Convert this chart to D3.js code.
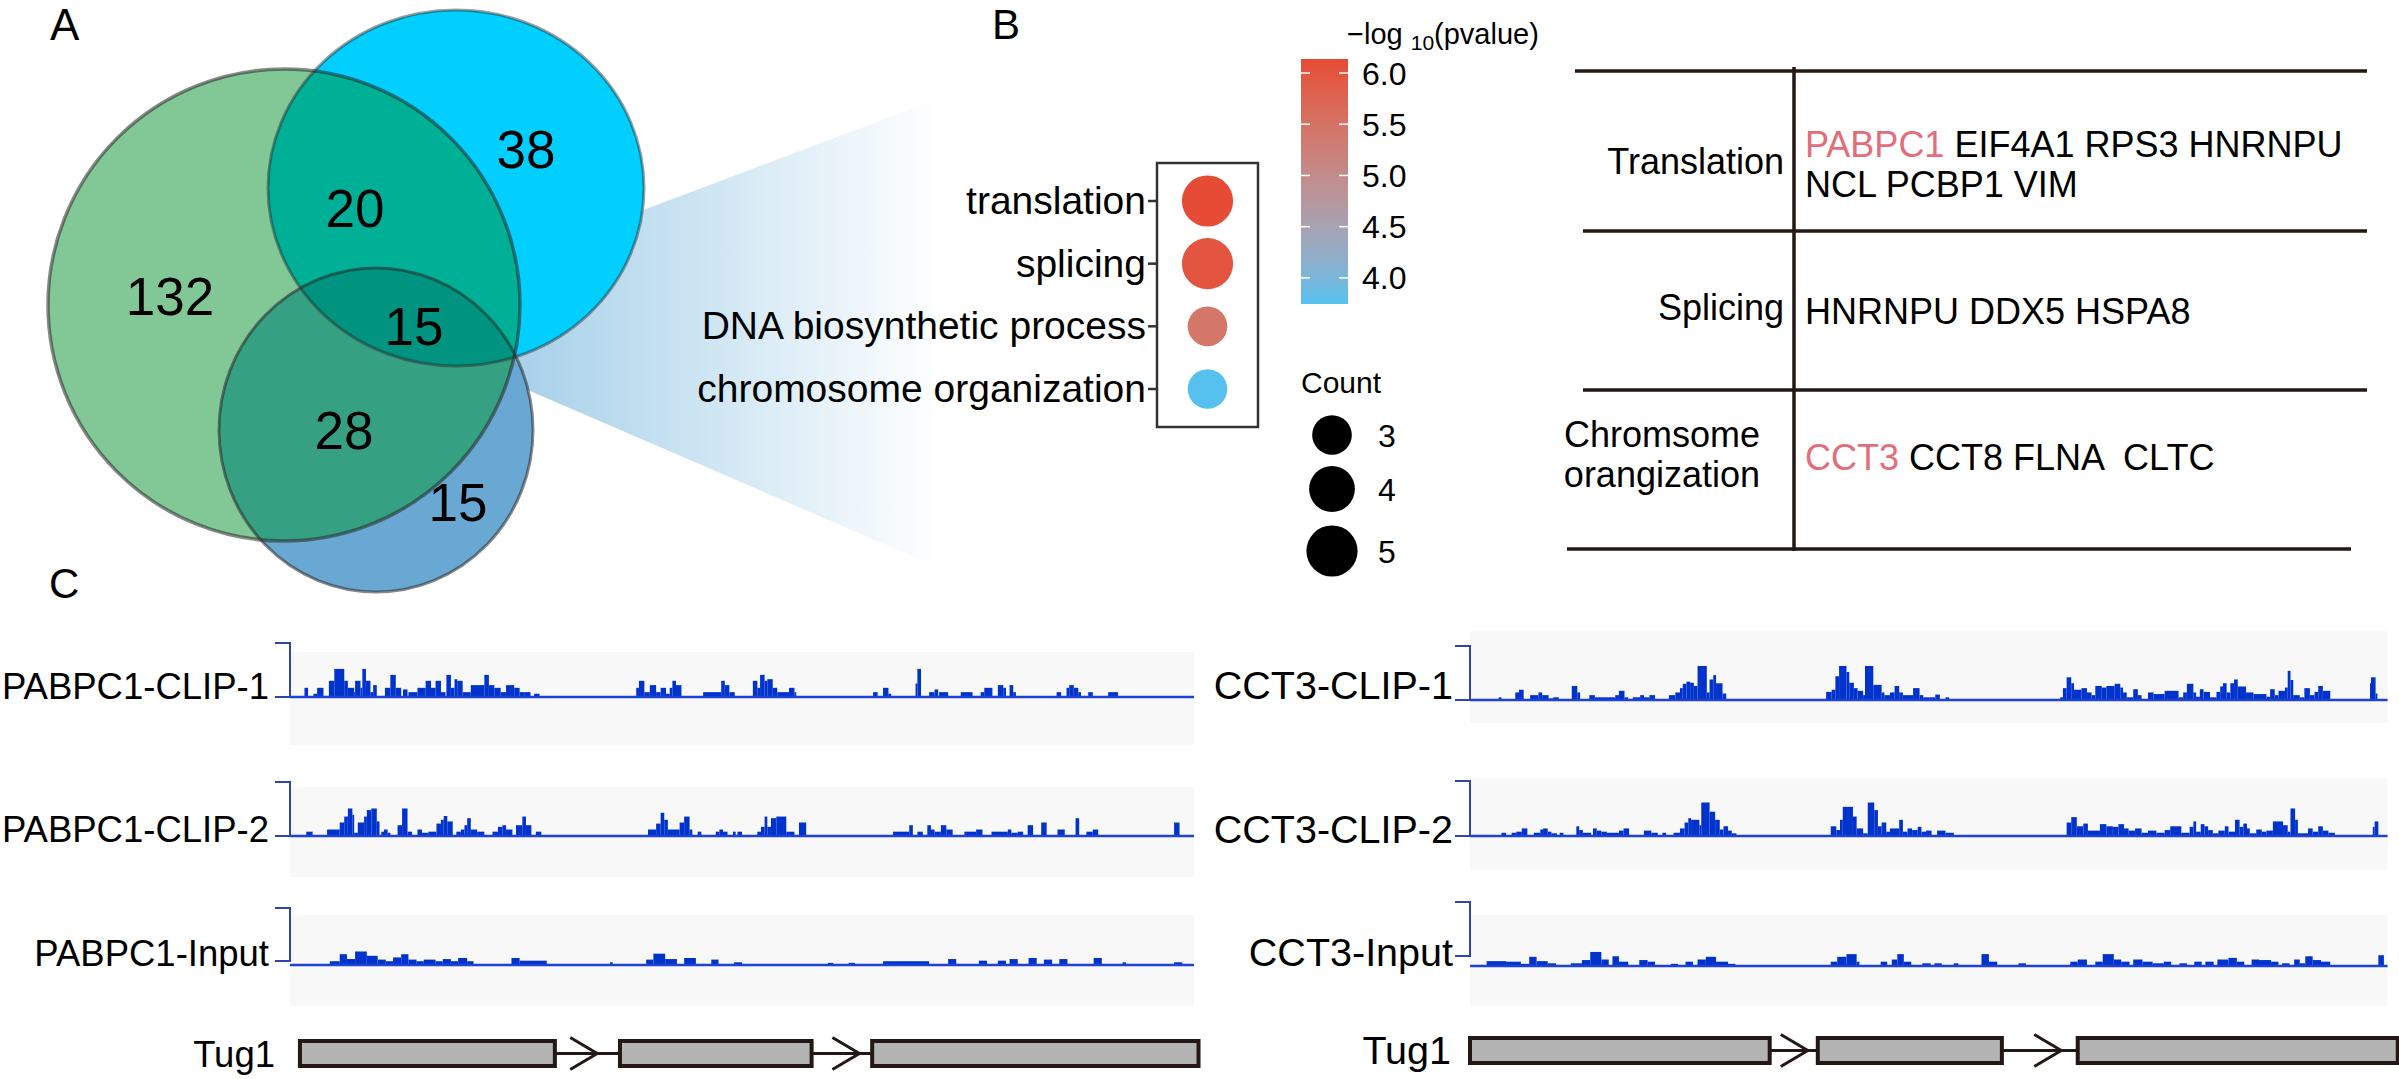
<!DOCTYPE html>
<html><head><meta charset="utf-8">
<script src="https://cdn.jsdelivr.net/npm/d3@7"></script>
<style>
body{margin:0;background:#fff;overflow:hidden}
svg text{font-family:"Liberation Sans",Arial,Helvetica,sans-serif;fill:#000}
</style></head>
<body><svg id="c" width="2399" height="1079"></svg>
<script>
// ---------------- DATA ----------------
// Panel A: Venn region counts
const vennRegions = ["A only", "B only", "A∩B", "A∩B∩C", "A∩C", "C only"];
const vennCounts = [132, 38, 20, 15, 28, 15];

// Panel B: GO enrichment
const goTerms = ["translation", "splicing", "DNA biosynthetic process", "chromosome organization"];
const goCount = [5, 5, 3, 3];
const goLogP = [6.137, 6.0, 5.45, 3.745];
const colorTicks = [4.0, 4.5, 5.0, 5.5, 6.0];
const countTicks = [3, 4, 5];

// Panel B: table
const tableCategories = [["Translation"], ["Splicing"], ["Chromsome", "orangization"]];
const tableGeneLines = [
  [["PABPC1", "EIF4A1", "RPS3", "HNRNPU"], ["NCL", "PCBP1", "VIM"]],
  [["HNRNPU", "DDX5", "HSPA8"]],
  [["CCT3", "CCT8", "FLNA", "", "CLTC"]]
];
const highlightGenes = ["PABPC1", "CCT3"];

// Panel C: tracks (bedGraph-like segments: [start, end, signal]; locus units 0-1000, signal 0-100 of track scale)
const trackNames = ["PABPC1-CLIP-1", "PABPC1-CLIP-2", "PABPC1-Input", "CCT3-CLIP-1", "CCT3-CLIP-2", "CCT3-Input"];
const sigL1 = [[16,20,17],[26,30,6],[30,37,17],[43,49,30],[49,60,52],[60,64,30],[64,71,17],[71,72,9],[72,78,30],[78,80,17],[80,84,52],[84,89,30],[89,92,9],[92,96,22],[105,111,17],[111,117,41],[117,123,17],[125,130,14],[131,141,9],[141,150,17],[150,156,30],[156,161,17],[161,167,30],[167,172,9],[173,178,41],[178,182,17],[182,185,33],[185,191,30],[191,200,9],[200,215,22],[215,220,41],[220,226,22],[226,233,17],[233,239,9],[239,248,22],[248,254,17],[254,259,9],[259,266,9],[270,276,6],[383,386,17],[386,392,30],[392,398,9],[398,405,22],[405,410,9],[410,416,17],[416,420,6],[420,423,17],[423,427,30],[427,433,22],[457,477,9],[477,481,30],[481,486,22],[486,492,9],[512,517,30],[517,520,17],[520,525,41],[525,528,30],[528,534,33],[534,539,17],[539,552,9],[552,558,17],[558,560,9],[645,650,9],[656,662,17],[662,665,6],[692,694,25],[694,698,52],[707,713,9],[713,717,14],[718,728,9],[742,755,9],[764,768,9],[768,777,17],[783,789,22],[789,792,17],[796,800,22],[800,803,9],[848,853,9],[859,862,17],[862,867,22],[867,872,17],[872,875,9],[883,888,9],[905,916,9]];
const sigL2 = [[18,25,8],[41,55,12],[55,60,25],[60,64,36],[64,69,51],[69,71,39],[71,75,6],[75,82,25],[82,85,36],[85,90,48],[90,96,51],[96,99,27],[101,104,8],[104,108,12],[108,111,6],[119,124,20],[124,130,51],[130,135,8],[141,146,12],[146,153,6],[153,162,8],[162,167,23],[167,170,30],[170,174,37],[174,180,27],[184,189,8],[189,193,12],[193,196,20],[196,200,33],[200,207,12],[207,215,8],[224,230,8],[230,235,17],[235,239,20],[239,246,12],[250,257,20],[257,261,36],[261,267,20],[272,278,8],[396,405,12],[405,410,23],[410,414,43],[414,418,30],[418,431,12],[431,436,25],[436,442,36],[442,445,12],[451,455,8],[471,475,8],[475,479,12],[479,484,8],[490,493,8],[495,500,8],[517,521,8],[521,525,17],[525,528,36],[528,532,17],[532,538,33],[538,549,36],[549,558,8],[563,571,25],[667,685,8],[685,689,20],[694,700,8],[705,709,20],[709,713,12],[713,720,8],[720,726,20],[726,733,12],[746,759,8],[759,766,12],[776,794,8],[794,798,12],[798,805,6],[805,811,8],[816,822,20],[831,837,25],[849,857,12],[869,873,33],[881,888,8],[888,894,12],[978,984,25]];
const sigL3 = [[44,55,7],[55,63,20],[63,72,11],[72,85,25],[85,97,17],[97,106,10],[106,114,7],[114,123,14],[123,131,20],[131,140,10],[140,148,7],[148,161,10],[161,169,7],[169,178,11],[178,186,7],[186,196,13],[196,203,7],[245,254,13],[254,284,8],[354,357,5],[394,402,10],[402,415,21],[415,428,11],[436,449,13],[466,474,10],[491,500,5],[595,601,4],[618,625,4],[656,707,7],[728,737,11],[762,771,8],[783,792,8],[796,805,11],[817,826,13],[834,843,10],[851,860,11],[889,898,13],[921,925,5],[978,987,5]];
const sigR1 = [[31,34,5],[49,53,14],[53,58,19],[65,74,9],[74,78,14],[78,85,9],[85,90,3],[90,96,5],[110,116,26],[116,119,14],[129,135,9],[135,157,5],[157,161,9],[161,167,17],[167,171,5],[176,184,5],[184,188,9],[188,194,5],[194,200,9],[215,222,9],[222,227,14],[227,230,22],[230,234,30],[234,238,34],[238,242,32],[242,246,26],[246,256,63],[256,259,14],[259,263,38],[263,266,46],[266,273,31],[273,277,12],[385,391,15],[391,395,19],[395,399,44],[399,407,63],[407,410,52],[410,415,32],[415,419,22],[419,425,17],[425,427,9],[427,436,63],[436,445,28],[445,448,14],[448,454,9],[454,459,14],[459,464,26],[464,468,14],[468,479,9],[479,486,22],[486,490,9],[490,497,5],[497,503,5],[503,508,10],[514,518,5],[638,641,5],[641,645,22],[645,650,42],[650,653,31],[653,661,19],[661,667,22],[667,672,14],[672,676,9],[676,683,26],[683,688,23],[688,697,26],[697,703,30],[703,706,23],[706,710,14],[710,717,5],[717,722,20],[722,726,9],[733,739,14],[739,751,11],[751,766,17],[766,771,5],[771,775,14],[775,782,30],[782,785,14],[785,789,6],[789,793,20],[793,800,15],[800,807,5],[807,811,15],[811,814,25],[814,818,31],[818,822,14],[822,826,31],[826,830,38],[830,839,25],[839,847,14],[847,861,11],[861,865,6],[865,870,20],[870,874,9],[874,881,17],[881,884,23],[884,887,54],[887,890,37],[890,897,9],[897,902,5],[902,908,22],[908,913,9],[913,917,15],[917,922,26],[922,930,17],[973,974,31],[974,979,42],[979,981,12]];
const sigR2 = [[34,39,6],[45,50,6],[50,56,8],[56,62,14],[69,76,6],[76,79,12],[79,84,14],[84,88,8],[88,94,5],[97,101,6],[115,118,18],[118,122,11],[122,131,6],[133,137,14],[137,142,10],[142,148,8],[148,161,6],[161,166,10],[166,172,14],[188,196,10],[196,203,6],[208,212,6],[220,227,6],[227,232,14],[232,236,25],[236,239,33],[239,248,30],[248,250,20],[250,259,62],[259,265,45],[265,270,30],[270,274,12],[274,279,18],[279,283,10],[283,288,5],[390,396,18],[396,400,11],[400,403,30],[403,414,54],[414,418,36],[418,425,14],[425,430,5],[430,437,62],[437,441,48],[441,445,18],[445,450,25],[450,454,8],[454,464,14],[464,468,30],[468,473,8],[473,478,14],[478,484,11],[484,488,17],[488,493,8],[493,499,10],[505,514,10],[514,523,6],[645,650,25],[650,656,35],[656,663,18],[663,668,23],[668,681,10],[681,688,22],[688,695,18],[695,701,17],[701,707,22],[707,712,14],[712,719,10],[719,726,14],[726,733,6],[733,742,10],[742,751,6],[751,757,11],[757,769,18],[769,778,6],[778,782,17],[782,785,27],[785,790,8],[790,794,22],[794,798,18],[798,803,11],[803,809,5],[809,816,10],[816,820,18],[820,827,8],[827,832,30],[832,836,17],[836,840,23],[840,843,14],[843,850,5],[850,856,12],[856,861,8],[861,868,10],[868,879,27],[879,884,20],[884,887,8],[887,892,51],[892,895,30],[895,906,5],[906,911,14],[911,917,8],[917,922,18],[922,928,10],[928,935,6],[976,978,17],[978,982,27]];
const sigR3 = [[18,39,9],[39,55,8],[55,64,4],[64,72,17],[72,84,9],[84,93,5],[109,121,5],[121,130,11],[130,142,26],[142,150,12],[154,161,18],[161,171,8],[183,192,11],[192,200,8],[217,225,4],[233,241,8],[246,255,12],[255,266,17],[266,279,8],[279,287,4],[390,397,8],[397,407,17],[407,418,22],[418,421,8],[444,451,8],[456,462,12],[462,469,22],[469,477,8],[489,498,5],[502,510,5],[523,528,5],[553,561,22],[561,570,8],[593,601,5],[649,657,8],[657,667,12],[676,684,8],[684,696,22],[696,704,12],[704,713,8],[717,727,12],[727,738,8],[738,750,5],[750,758,8],[767,775,5],[783,791,8],[795,804,8],[808,820,12],[820,829,15],[829,837,8],[845,853,12],[853,866,11],[866,874,8],[878,886,5],[891,897,12],[897,903,5],[903,911,18],[911,920,11],[920,930,8],[982,988,20]];
const trackSignals = [sigL1, sigL2, sigL3, sigR1, sigR2, sigR3];

// Gene model (Tug1) exons and strand chevrons, locus units
const geneName = "Tug1";
const exonsLeft = [[11, 293], [365, 577], [644, 1005]];
const exonsRight = [[0, 324], [376, 575], [657, 1003]];
const chevronsLeft = [310, 600];
const chevronsRight = [336, 610];

// ---------------- LAYOUT ----------------
const svg = d3.select("#c");
const defs = svg.append("defs");
const DARK = "#231815";

// ===== Panel A =====
svg.append("text").attr("x", 50).attr("y", 40).attr("font-size", 44).text("A");

const wg = defs.append("linearGradient").attr("id", "wedgeGrad")
  .attr("gradientUnits", "userSpaceOnUse").attr("x1", 520).attr("y1", 0).attr("x2", 940).attr("y2", 0);
wg.append("stop").attr("offset", 0).attr("stop-color", "#a8d1ea");
wg.append("stop").attr("offset", 0.5).attr("stop-color", "#d3e8f4");
wg.append("stop").attr("offset", 1).attr("stop-color", "#ffffff");
const wedgePts = [[500, 264], [935, 100], [935, 566], [500, 378]];
svg.append("path").attr("d", d3.line()(wedgePts) + "Z").attr("fill", "url(#wedgeGrad)");

const vennShapes = [
  {cx: 284, cy: 305, rx: 236, ry: 236},   // green
  {cx: 456, cy: 188, rx: 188, ry: 178},   // cyan
  {cx: 376, cy: 430, rx: 157, ry: 162}    // blue
];
const ell = (sel, s) => sel.append("ellipse").attr("cx", s.cx).attr("cy", s.cy).attr("rx", s.rx).attr("ry", s.ry);
ell(defs.append("clipPath").attr("id", "clipG"), vennShapes[0]);
ell(defs.append("clipPath").attr("id", "clipC"), vennShapes[1]);

const venn = svg.append("g");
ell(venn, vennShapes[0]).attr("fill", "#82c897");
ell(venn, vennShapes[1]).attr("fill", "#00cfff");
ell(venn, vennShapes[2]).attr("fill", "#6aa8d4");
ell(venn.append("g").attr("clip-path", "url(#clipC)"), vennShapes[2]).attr("fill", "#27a4d6");
const inG = venn.append("g").attr("clip-path", "url(#clipG)");
ell(inG, vennShapes[1]).attr("fill", "#00b096");
ell(inG, vennShapes[2]).attr("fill", "#35a082");
ell(inG.append("g").attr("clip-path", "url(#clipC)"), vennShapes[2]).attr("fill", "#00937f");
ell(venn, vennShapes[0]).attr("fill", "none").attr("stroke", "rgba(40,40,40,0.55)").attr("stroke-width", 3.5);
ell(venn, vennShapes[1]).attr("fill", "none").attr("stroke", "rgba(40,40,40,0.45)").attr("stroke-width", 3);
ell(venn, vennShapes[2]).attr("fill", "none").attr("stroke", "rgba(40,40,40,0.55)").attr("stroke-width", 3);

const vennLabelPos = [[170, 315], [526, 168], [355, 227], [414, 345], [344, 449], [458, 521]];
vennCounts.forEach((c, i) => {
  svg.append("text").attr("x", vennLabelPos[i][0]).attr("y", vennLabelPos[i][1])
    .attr("text-anchor", "middle").attr("font-size", 53).text(c);
});

// ===== Panel B: dot plot =====
svg.append("text").attr("x", 992).attr("y", 39).attr("font-size", 42).text("B");

const yTerm = d3.scalePoint().domain(goTerms).range([201, 389]);
const rSize = d3.scaleSqrt().domain([0, 5]).range([0, 25.6]);
const cScale = d3.scaleLinear().domain([3.745, 6.137]).range(["#56c1ef", "#e64b35"]).interpolate(d3.interpolateLab);
const dotX = 1207.5;

svg.append("rect").attr("x", 1157).attr("y", 163).attr("width", 101).attr("height", 264)
  .attr("fill", "none").attr("stroke", "#333").attr("stroke-width", 2.5);
goTerms.forEach((t, i) => {
  const y = yTerm(t);
  svg.append("line").attr("x1", 1148).attr("x2", 1157).attr("y1", y).attr("y2", y)
    .attr("stroke", "#333").attr("stroke-width", 2.5);
  svg.append("text").attr("x", 1146).attr("y", y + 13).attr("text-anchor", "end")
    .attr("font-size", 39).text(t);
  svg.append("circle").attr("cx", dotX).attr("cy", y).attr("r", rSize(goCount[i])).attr("fill", cScale(goLogP[i]));
});

// colour bar
const cbY = d3.scaleLinear().domain(cScale.domain()).range([304, 59]);
const cg = defs.append("linearGradient").attr("id", "cbGrad").attr("x1", 0).attr("y1", 1).attr("x2", 0).attr("y2", 0);
d3.range(0, 11).forEach(k => {
  const v = cScale.domain()[0] + (cScale.domain()[1] - cScale.domain()[0]) * k / 10;
  cg.append("stop").attr("offset", k / 10).attr("stop-color", cScale(v));
});
svg.append("rect").attr("x", 1301).attr("y", 59).attr("width", 47).attr("height", 245).attr("fill", "url(#cbGrad)");
colorTicks.forEach(v => {
  const y = cbY(v);
  svg.append("line").attr("x1", 1301).attr("x2", 1310).attr("y1", y).attr("y2", y).attr("stroke", "#fff").attr("stroke-width", 1.5);
  svg.append("line").attr("x1", 1339).attr("x2", 1348).attr("y1", y).attr("y2", y).attr("stroke", "#fff").attr("stroke-width", 1.5);
  svg.append("text").attr("x", 1362).attr("y", y + 11.5).attr("font-size", 32).text(v.toFixed(1));
});
const title = svg.append("text").attr("x", 1347).attr("y", 44).attr("font-size", 29);
title.append("tspan").text("\u2212log ");
title.append("tspan").attr("font-size", 21).attr("dy", 6).text("10");
title.append("tspan").attr("dy", -6).text("(pvalue)");

// size legend
svg.append("text").attr("x", 1301).attr("y", 393).attr("font-size", 30).text("Count");
const countY = [435, 489, 551];
countTicks.forEach((c, i) => {
  svg.append("circle").attr("cx", 1332).attr("cy", countY[i]).attr("r", rSize(c)).attr("fill", "#000");
  svg.append("text").attr("x", 1378).attr("y", countY[i] + 11.5).attr("font-size", 32).text(c);
});

// ===== Panel B: table =====
const tableLines = [[1575, 2367, 71], [1583, 2367, 231], [1583, 2367, 390], [1567, 2351, 549]];
tableLines.forEach(l => svg.append("line").attr("x1", l[0]).attr("x2", l[1]).attr("y1", l[2]).attr("y2", l[2])
  .attr("stroke", DARK).attr("stroke-width", 3.5));
svg.append("line").attr("x1", 1794).attr("x2", 1794).attr("y1", 67).attr("y2", 551).attr("stroke", DARK).attr("stroke-width", 3.5);

const catPos = [{x: 1784, y: [174]}, {x: 1784, y: [320]}, {x: 1760, y: [447, 487]}];
tableCategories.forEach((lines, i) => {
  lines.forEach((ln, j) => svg.append("text").attr("x", catPos[i].x).attr("y", catPos[i].y[j])
    .attr("text-anchor", "end").attr("font-size", 36).text(ln));
});
const genePosY = [[157, 197], [324], [470]];
tableGeneLines.forEach((rows, i) => {
  rows.forEach((words, j) => {
    const t = svg.append("text").attr("x", 1805).attr("y", genePosY[i][j]).attr("font-size", 36)
      .attr("xml:space", "preserve").style("white-space", "pre");
    words.forEach((w, k) => {
      t.append("tspan").style("fill", highlightGenes.includes(w) ? "#e36d7b" : "#000")
        .text(w + (k < words.length - 1 ? " " : ""));
    });
  });
});

// ===== Panel C =====
svg.append("text").attr("x", 49).attr("y", 598).attr("font-size", 42).text("C");

const panels = [
  {x: d3.scaleLinear().domain([0, 1000]).range([290, 1194]), end: 1000, labelX: 269, labelSize: 36.5,
   exons: exonsLeft, chev: chevronsLeft, geneY: 1053.5, geneLabelX: 275},
  {x: d3.scaleLinear().domain([0, 1000]).range([1470, 2395]), end: 992, labelX: 1453, labelSize: 39.5,
   exons: exonsRight, chev: chevronsRight, geneY: 1050.5, geneLabelX: 1451}
];
const trackLayout = [
  {p: 0, base: 697, bgTop: 652, bgBot: 745, bTop: 643, bBot: 697, labY: 699},
  {p: 0, base: 836, bgTop: 787, bgBot: 877, bTop: 782, bBot: 836, labY: 842},
  {p: 0, base: 965, bgTop: 915, bgBot: 1006, bTop: 908, bBot: 961, labY: 966},
  {p: 1, base: 700, bgTop: 631, bgBot: 723, bTop: 646, bBot: 700, labY: 699},
  {p: 1, base: 836, bgTop: 778, bgBot: 870, bTop: 781, bBot: 836, labY: 843},
  {p: 1, base: 966, bgTop: 915, bgBot: 1006, bTop: 902, bBot: 956, labY: 966}
];
const SIG = "#0033cc";
trackNames.forEach((name, i) => {
  const L = trackLayout[i], P = panels[L.p], x = P.x;
  const y = d3.scaleLinear().domain([0, 100]).range([L.base, L.base - 54]);
  const x0 = x(0), x1 = x(P.end);
  const g = svg.append("g");
  g.append("rect").attr("x", x0).attr("y", L.bgTop).attr("width", x1 - x0).attr("height", L.bgBot - L.bgTop).attr("fill", "#f8f8f8");
  g.selectAll("rect.sig").data(trackSignals[i]).join("rect").attr("class", "sig")
    .attr("x", d => x(d[0])).attr("width", d => Math.max(1, x(d[1]) - x(d[0])))
    .attr("y", d => y(d[2])).attr("height", d => L.base - y(d[2])).attr("fill", SIG);
  g.append("line").attr("x1", x0).attr("x2", x1).attr("y1", L.base).attr("y2", L.base)
    .attr("stroke", "#1f42d6").attr("stroke-width", 2.5);
  g.append("path").attr("d", `M${x0 - 15},${L.bTop}H${x0}V${L.bBot}H${x0 - 15}`)
    .attr("fill", "none").attr("stroke", "#2f44b0").attr("stroke-width", 2);
  svg.append("text").attr("x", P.labelX).attr("y", L.labY).attr("text-anchor", "end")
    .attr("font-size", P.labelSize).text(name);
});

// gene models
panels.forEach(P => {
  const x = P.x, yc = P.geneY, h = 25;
  const g = svg.append("g");
  for (let k = 0; k < P.exons.length - 1; k++) {
    g.append("line").attr("x1", x(P.exons[k][1])).attr("x2", x(P.exons[k + 1][0]))
      .attr("y1", yc).attr("y2", yc).attr("stroke", DARK).attr("stroke-width", 3);
  }
  P.chev.forEach(c => {
    g.append("path").attr("d", `M${x(c)},${yc - 16}L${x(c) + 27},${yc}L${x(c)},${yc + 16}`)
      .attr("fill", "none").attr("stroke", DARK).attr("stroke-width", 3);
  });
  g.selectAll("rect.exon").data(P.exons).join("rect").attr("class", "exon")
    .attr("x", d => x(d[0])).attr("width", d => x(d[1]) - x(d[0]))
    .attr("y", yc - h / 2).attr("height", h)
    .attr("fill", "#b3b3b3").attr("stroke", DARK).attr("stroke-width", 4);
  svg.append("text").attr("x", P.geneLabelX).attr("y", yc + 13).attr("text-anchor", "end")
    .attr("font-size", P.labelSize).text(geneName);
});
</script></body></html>
